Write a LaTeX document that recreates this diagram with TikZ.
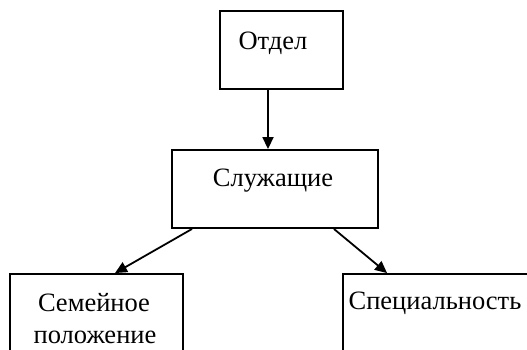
\documentclass[tikz,border=0pt]{standalone}
\usepackage{fontspec}
\setmainfont{Liberation Serif}
\usetikzlibrary{arrows.meta}
\begin{document}
\begin{tikzpicture}[x=1pt,y=-1pt,
    box/.style={draw, line width=1.9pt, rectangle, inner sep=0pt},
    lbl/.style={anchor=base, inner sep=0pt, font=\fontsize{26.5}{30}\selectfont},
    arr/.style={-{Triangle[length=12pt,width=11pt]}, line width=1.8pt}]
    % Bounding box
    \useasboundingbox (0,0) rectangle (527,349);
    \clip (0,0) rectangle (527,349);
    % Boxes
    \node [box, minimum width=123pt, minimum height=78pt] (otdel) at (281.5,50) {};
    \node [box, minimum width=206pt, minimum height=78pt] (sluzh) at (275,189) {};
    \node [box, minimum width=173pt, minimum height=126pt] (semya) at (96.5,337) {};
    \node [box, minimum width=220pt, minimum height=126pt] (spec) at (453,337) {};
    % Texts
    \node [lbl] (totdel) at (273,49) {Отдел};
    \node [lbl] (tsluzh) at (273,186) {Служащие};
    \node [lbl] (tsemya1) at (94,311) {Семейное};
    \node [lbl] (tsemya2) at (95,343) {положение};
    \node [lbl] (tspec) at (435,309) {Специальность};
    % Arrows
    \draw [arr] ([xshift=-13.5pt]otdel.south) -- ([xshift=-7pt]sluzh.north);
    \draw [arr] ([xshift=21pt]sluzh.south west) -- ([xshift=18.5pt]semya.north);
    \draw [arr] ([xshift=-45pt]sluzh.south east) -- ([xshift=45pt]spec.north west);
\end{tikzpicture}
\end{document}
